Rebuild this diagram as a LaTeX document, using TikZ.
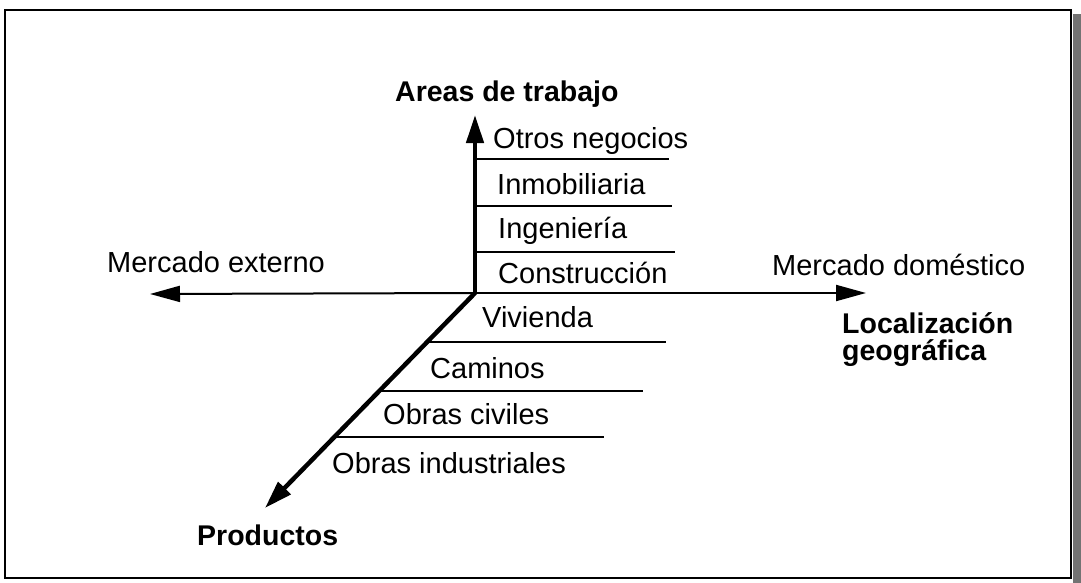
\documentclass[tikz,border=0pt]{standalone}
\usepackage{fontspec}
\setmainfont{Liberation Sans}
\usetikzlibrary{arrows.meta}
\tikzset{
  lbl/.style={anchor=base west, inner sep=0pt, font=\fontsize{29}{29}\selectfont},
  blbl/.style={anchor=base west, inner sep=0pt, font=\fontsize{28.5}{26.5}\selectfont\bfseries},
  thickaxis/.style={line width=4.5pt, -{Triangle[length=28pt,width=17pt]}},
  thinaxis/.style={line width=2pt, -{Triangle[length=30pt,width=16pt]}},
  sep/.style={line width=2pt},
  frame/.style={line width=2pt}
}
\begin{document}
\begin{tikzpicture}[x=1pt,y=-1pt]
\useasboundingbox (0,0) rectangle (1081,583);
% frame
\draw[frame] (5,10) rectangle (1071,578);
\fill[black!55] (1073,14) rectangle (1081,583);
% origin and axis tips
\coordinate (O) at (475,293);
\coordinate (up) at (475,115);
\coordinate (left) at (150,294);
\coordinate (right) at (866,293);
\coordinate (down) at (265,508);
\draw[thickaxis] (O) -- (up);
\draw[thinaxis] (O) -- (left);
\draw[thinaxis] (O) -- (right);
\draw[thickaxis, line cap=round] (O) -- (down);
% upper separators
\coordinate (u1a) at (475,159); \coordinate (u1b) at (669,159);
\coordinate (u2a) at (475,206); \coordinate (u2b) at (672,206);
\coordinate (u3a) at (475,252); \coordinate (u3b) at (675,252);
\draw[sep] (u1a) -- (u1b);
\draw[sep] (u2a) -- (u2b);
\draw[sep] (u3a) -- (u3b);
% lower separators
\coordinate (l1a) at (427,342); \coordinate (l1b) at (666,342);
\coordinate (l2a) at (379,391); \coordinate (l2b) at (643,391);
\coordinate (l3a) at (334,437); \coordinate (l3b) at (604,437);
\draw[sep] (l1a) -- (l1b);
\draw[sep] (l2a) -- (l2b);
\draw[sep] (l3a) -- (l3b);
% labels
\node[blbl] (areas) at (395,102) {Areas de trabajo};
\node[lbl] (otros) at (493,148) {Otros negocios};
\node[lbl] (inmob) at (497,194) {Inmobiliaria};
\node[lbl] (inge) at (498,238) {Ingeniería};
\node[lbl] (constr) at (498,283) {Construcción};
\node[lbl] (mext) at (107,272) {Mercado externo};
\node[lbl] (mdom) at (772,275) {Mercado doméstico};
\node[blbl, align=left] (loc) at (842,360) {Localización\\geográfica};
\node[lbl] (viv) at (482,327) {Vivienda};
\node[lbl] (cam) at (430,378) {Caminos};
\node[lbl] (civ) at (383,424) {Obras civiles};
\node[lbl] (ind) at (332,473) {Obras industriales};
\node[blbl] (prod) at (197,545) {Productos};
\end{tikzpicture}
\end{document}
